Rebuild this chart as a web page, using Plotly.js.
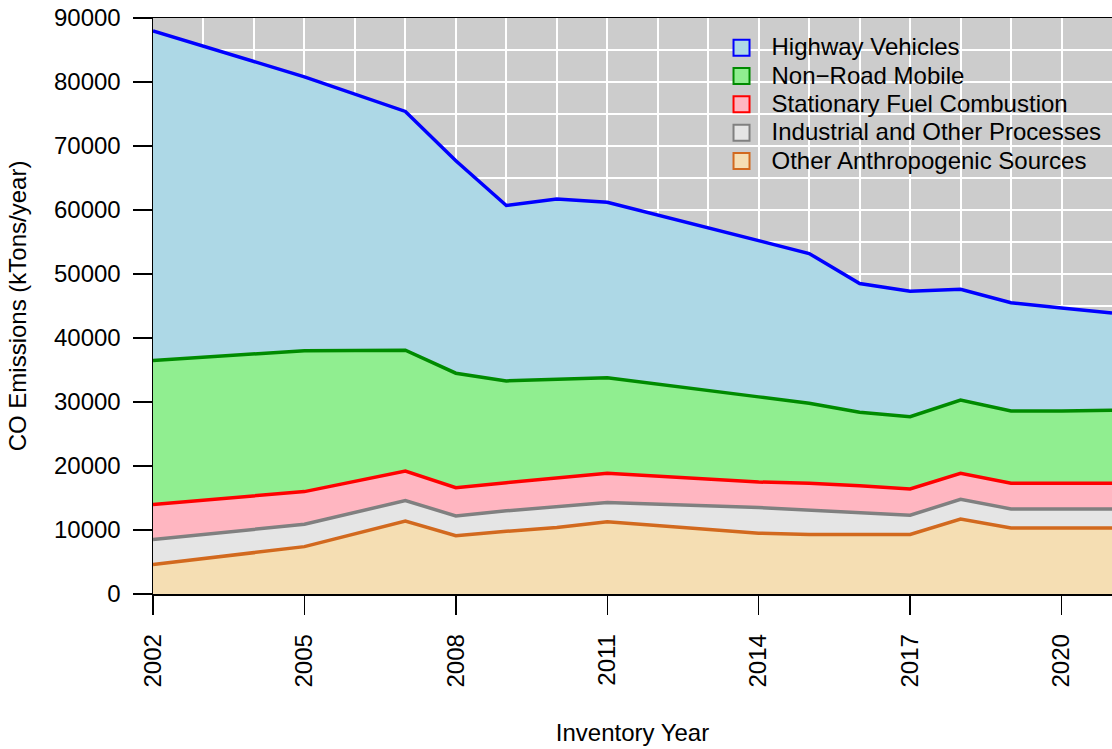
<!DOCTYPE html>
<html>
<head>
<meta charset="utf-8">
<script src="https://cdn.plot.ly/plotly-3.0.1.min.js"></script>
<style>html,body{margin:0;padding:0;background:#fff;}#chart{width:1112px;height:749px;}</style>
</head>
<body>
<div id="chart"></div>
<script>
// Inventory years
const years = [2002, 2005, 2007, 2008, 2009, 2010, 2011, 2014, 2015, 2016, 2017, 2018, 2019, 2020, 2021];

// CO emissions by source (kTons/year), stacked bottom to top
const otherAnthropogenic = [4600, 7400, 11400, 9100, 9800, 10400, 11300, 9500, 9300, 9300, 9300, 11700, 10300, 10300, 10300];
const industrialOther    = [3900, 3500, 3200, 3100, 3200, 3200, 3000, 4000, 3800, 3450, 3000, 3100, 3000, 3000, 3000];
const stationaryFuel     = [5500, 5100, 4600, 4400, 4400, 4500, 4550, 4000, 4200, 4150, 4100, 4050, 4000, 4000, 4000];
const nonRoadMobile      = [22500, 22000, 18900, 17900, 15900, 15400, 14950, 13300, 12500, 11500, 11300, 11450, 11300, 11300, 11400];
const highwayVehicles    = [51500, 42800, 37300, 33200, 27400, 28200, 27400, 24500, 23400, 20100, 19600, 17300, 16900, 16100, 15200];

const seriesNames = ["Other Anthropogenic Sources", "Industrial and Other Processes", "Stationary Fuel Combustion", "Non\u2212Road Mobile", "Highway Vehicles"];
const seriesValues = [otherAnthropogenic, industrialOther, stationaryFuel, nonRoadMobile, highwayVehicles];
const fillColors = ["#F5DEB3", "#E5E5E5", "#FFB6C1", "#90EE90", "#ADD8E6"];
const lineColors = ["#D2691E", "#808080", "#FF0000", "#008B00", "#0000FF"];

const xTickVals = [2002, 2005, 2008, 2011, 2014, 2017, 2020];

const FONT = "Liberation Sans, Arial, Helvetica, sans-serif";
const FS = 24;

const traces = [];
for (let i = 0; i < seriesValues.length; i++) {
  traces.push({
    type: "scatter",
    mode: "lines",
    x: years,
    y: seriesValues[i],
    stackgroup: "one",
    fillcolor: fillColors[i],
    line: {color: lineColors[i], width: 3.5},
    showlegend: false,
    hoverinfo: "skip"
  });
}
// legend entries (top to bottom: Highway ... Other)
for (let i = seriesValues.length - 1; i >= 0; i--) {
  traces.push({
    type: "scatter",
    mode: "markers",
    x: [null],
    y: [null],
    name: '<span style="font-size:' + FS + 'px">' + seriesNames[i] + '</span>',
    marker: {symbol: "square", size: 16, color: fillColors[i], line: {color: lineColors[i], width: 2}},
    showlegend: true
  });
}

const layout = {
  width: 1112,
  height: 749,
  margin: {l: 153, r: 0, t: 18, b: 155, pad: 0},
  paper_bgcolor: "#ffffff",
  plot_bgcolor: "#CCCCCC",
  font: {family: FONT, size: FS, color: "#000"},
  showlegend: true,
  legend: {
    x: 0.5824, xanchor: "left",
    y: 0.9818, yanchor: "top",
    bgcolor: "rgba(0,0,0,0)",
    borderwidth: 0,
    traceorder: "normal",
    itemsizing: "trace",
    itemwidth: 50,
    font: {family: FONT, size: 19.5, color: "#000"}
  },
  xaxis: {
    range: [2002, 2021],
    tickmode: "array",
    tickvals: xTickVals,
    ticktext: xTickVals.map(String),
    tickangle: -90,
    ticks: "outside",
    ticklen: 19,
    tickwidth: 1.5,
    tickcolor: "#000",
    ticklabelstandoff: 10,
    tickfont: {family: FONT, size: FS},
    showline: true,
    linecolor: "#000",
    linewidth: 1.5,
    mirror: true,
    showgrid: true,
    gridcolor: "#ffffff",
    gridwidth: 2,
    minor: {dtick: 1, tick0: 2002, showgrid: true, gridcolor: "#ffffff", gridwidth: 2, ticks: ""},
    zeroline: false,
    title: {text: "Inventory Year", font: {family: FONT, size: FS}, standoff: 37},
    automargin: false
  },
  yaxis: {
    range: [0, 90000],
    tickmode: "linear",
    tick0: 0,
    dtick: 10000,
    tickformat: "d",
    ticks: "outside",
    ticklen: 19,
    tickwidth: 1.5,
    tickcolor: "#000",
    ticklabelstandoff: 7,
    tickfont: {family: FONT, size: FS},
    showline: true,
    linecolor: "#000",
    linewidth: 1.5,
    mirror: false,
    showgrid: true,
    gridcolor: "#ffffff",
    gridwidth: 2,
    minor: {dtick: 5000, showgrid: true, gridcolor: "#ffffff", gridwidth: 2, ticks: ""},
    zeroline: false,
    title: {text: "CO Emissions (kTons/year)", font: {family: FONT, size: FS}, standoff: 20},
    automargin: false
  }
};

Plotly.newPlot("chart", traces, layout, {displayModeBar: false, staticPlot: true});
</script>
</body>
</html>
